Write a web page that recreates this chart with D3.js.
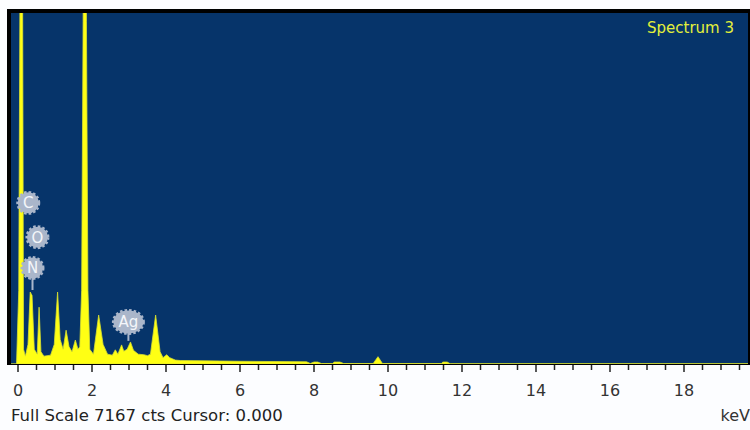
<!DOCTYPE html>
<html>
<head>
<meta charset="utf-8">
<script src="https://cdn.jsdelivr.net/npm/d3@7"></script>
<style>
  body { margin: 0; background: #fcfdff; }
  svg { display: block; font-family: "DejaVu Sans", Verdana, sans-serif; }
</style>
</head>
<body>
<div id="chart"></div>
<script>
// spectrum (keV, counts); values above full scale are clipped
const energy = [
  -0.2, -0.04, 0.02, 0.06, 0.12, 0.15, 0.20, 0.27, 0.33, 0.38, 0.44, 0.52, 0.57, 0.62, 0.70,
  0.88, 0.98, 1.07, 1.14, 1.22, 1.30, 1.38, 1.46, 1.55, 1.62, 1.67, 1.72, 1.76, 1.77, 1.84,
  1.85, 1.89, 1.94, 2.04, 2.18, 2.30, 2.42, 2.55, 2.63, 2.70, 2.80, 2.86, 2.95, 3.04, 3.12,
  3.25, 3.40, 3.50, 3.58, 3.72, 3.84, 3.92, 4.02, 4.10, 4.25, 4.40, 5.00, 6.00, 7.00, 7.80,
  7.90, 8.00, 8.10, 8.20, 8.50, 8.55, 8.70, 8.80, 9.60, 9.73, 9.85, 11.45, 11.48, 11.60,
  11.68, 19.9
];
const counts = [
  0, 0, 1500, 9000, 9000, 300, 160, 400, 1470, 1400, 300, 200, 1160, 250, 160,
  180, 400, 1470, 500, 300, 690, 350, 250, 490, 300, 350, 1500, 7000, 9000, 9000,
  7000, 1500, 300, 200, 1000, 400, 200, 180, 290, 200, 390, 260, 300, 450, 280,
  200, 190, 170, 200, 1000, 250, 130, 190, 130, 80, 70, 65, 55, 50, 45,
  10, 40, 40, 10, 10, 40, 40, 10, 10, 150, 10, 10, 40, 40,
  5, 5
];
const elements = ["C", "O", "N", "Ag"];
const lineEnergy = [0.277, 0.525, 0.392, 2.984];
const labelCounts = [3290, 2590, 1960, 860];
const tickValues = [0, 2, 4, 6, 8, 10, 12, 14, 16, 18];
const fullScale = 7167;
const spectrumName = "Spectrum 3";

const W = 750, H = 430;
const plot = { left: 11, top: 13, right: 748, bottom: 364 };

const svg = d3.select("#chart").append("svg")
  .attr("width", W).attr("height", H);

const x = d3.scaleLinear().domain([0, 18]).range([18, 684]);
const y = d3.scaleLinear().domain([0, fullScale]).range([plot.bottom, plot.top]);

// frame
svg.append("rect")
  .attr("x", 7).attr("y", 9)
  .attr("width", W - 7).attr("height", plot.bottom - 9 + 1)
  .style("fill", "#000");
svg.append("rect")
  .attr("x", plot.left).attr("y", plot.top)
  .attr("width", plot.right - plot.left).attr("height", plot.bottom - plot.top)
  .style("fill", "#06346a");

svg.append("clipPath").attr("id", "clip")
  .append("rect")
  .attr("x", plot.left).attr("y", plot.top)
  .attr("width", plot.right - plot.left).attr("height", plot.bottom - plot.top);

const points = energy.map((e, i) => ({ e: e, c: counts[i] }));
const area = d3.area()
  .x((d) => x(d.e))
  .y0(plot.bottom)
  .y1((d) => y(d.c));

svg.append("path")
  .datum(points)
  .attr("clip-path", "url(#clip)")
  .attr("d", area)
  .style("fill", "#ffff14")
  .style("stroke", "#d8e030")
  .style("stroke-width", 0.8);

// element markers
const labels = elements.map((name, i) => ({ name: name, e: lineEnergy[i], c: labelCounts[i] }));
const badge = svg.append("g").attr("clip-path", "url(#clip)")
  .selectAll(".badge")
  .data(labels).enter()
  .append("g")
  .attr("class", "badge")
  .attr("transform", (d) => `translate(${x(d.e)},${y(d.c)})`);

badge.filter((d) => d.name === "N" || d.name === "Ag")
  .append("line")
  .attr("x1", 0).attr("x2", 0)
  .attr("y1", 10)
  .attr("y2", (d) => d.name === "Ag" ? 19 : 22)
  .style("stroke", "#a9b6cb")
  .style("stroke-width", 2);

badge.append("ellipse")
  .attr("rx", (d) => d.name.length > 1 ? 15 : 10.5)
  .attr("ry", (d) => d.name.length > 1 ? 11.5 : 10.5)
  .style("fill", "#aab6ca")
  .style("stroke", "#aab6ca")
  .style("stroke-width", 3)
  .style("stroke-dasharray", "2.5 2");

badge.append("text")
  .attr("text-anchor", "middle")
  .attr("dy", "0.36em")
  .style("font-size", "15px")
  .style("fill", "#f4f6fa")
  .text((d) => d.name);

svg.append("text")
  .attr("x", 734).attr("y", 33)
  .attr("text-anchor", "end")
  .style("font-size", "15px")
  .style("fill", "#e4f03a")
  .text(spectrumName);

// axis
const minor = d3.range(0, 20, 0.5);
svg.selectAll(".tick")
  .data(minor).enter()
  .append("line")
  .attr("class", "tick")
  .attr("x1", (d) => x(d)).attr("x2", (d) => x(d))
  .attr("y1", plot.bottom + 1)
  .attr("y2", (d) => plot.bottom + (d % 2 === 0 ? 8 : 6))
  .style("stroke", "#222")
  .style("stroke-width", 1.5);

svg.selectAll(".tickLabel")
  .data(tickValues).enter()
  .append("text")
  .attr("class", "tickLabel")
  .attr("x", (d) => x(d))
  .attr("y", 396)
  .attr("text-anchor", "middle")
  .style("font-size", "16px")
  .style("fill", "#333")
  .text((d) => d);

svg.append("text")
  .attr("x", 11).attr("y", 421)
  .style("font-size", "16.5px")
  .style("fill", "#222")
  .text(`Full Scale ${fullScale} cts Cursor: 0.000`);

svg.append("text")
  .attr("x", 750).attr("y", 421)
  .attr("text-anchor", "end")
  .style("font-size", "16px")
  .style("fill", "#333")
  .text("keV");
</script>
</body>
</html>
